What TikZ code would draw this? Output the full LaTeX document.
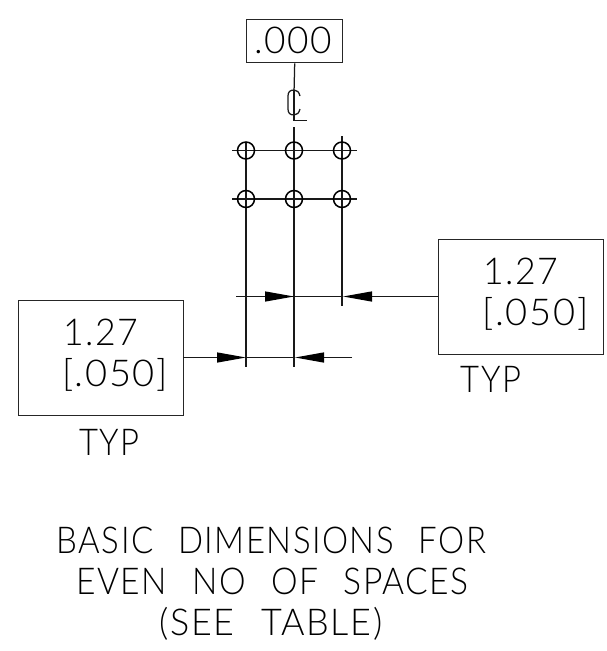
\documentclass[tikz,border=0pt]{standalone}
\usepackage{graphicx}
\usepackage{fontspec}
\setmainfont{Lato}[UprightFont={* Light},LetterSpace=4,WordSpace=2.4,FakeStretch=0.92]
\usetikzlibrary{arrows.meta}
\tikzset{
  x=1pt,y=-1pt,
  ln/.style={line width=1.25pt,black!90},
  dimbox/.style={draw=black!85,line width=1.4pt,inner sep=0pt,anchor=north west,fill=none},
  lbl/.style={inner sep=0pt,font=\fontsize{37}{37}\selectfont,text=black,anchor=center},
  hole/.style={circle,draw=black,line width=1.5pt,minimum size=17pt,inner sep=0pt},
  tip/.style={-{Triangle[length=29pt,width=10pt,black]},shorten >=0pt}
}
\begin{document}
\begin{tikzpicture}
\useasboundingbox (0,0) rectangle (606,651);
\node[dimbox,minimum width=96pt,minimum height=43pt] (boxtop) at (246,19) {};
\node[dimbox,minimum width=165pt,minimum height=115pt] (boxleft) at (18,300) {};
\node[dimbox,minimum width=165pt,minimum height=115pt] (boxright) at (438,239) {};
\coordinate (cltop) at (294,93);
\coordinate (midtop) at (294,127);
\coordinate (midbot) at (294,367);
\coordinate (lefttop) at (246,142);
\coordinate (leftbot) at (246,367);
\coordinate (righttop) at (342,136);
\coordinate (rightbot) at (342,306);
\coordinate (r1l) at (232,150.5);
\coordinate (r1r) at (357,150.5);
\coordinate (r2l) at (232,199);
\coordinate (r2r) at (357,199);
\coordinate (ustart) at (236,296.5);
\coordinate (utipl) at (294,296.5);
\coordinate (utipr) at (343,296.5);
\coordinate (lbox) at (183,357.5);
\coordinate (ltipl) at (246,357.5);
\coordinate (ltipr) at (295,357.5);
\coordinate (lend) at (352,357.5);
\coordinate (rbox) at (438,296.5);
\draw[ln] (boxtop.south) -- (cltop);
\draw[ln] (midtop) -- (midbot);
\draw[ln] (lefttop) -- (leftbot);
\draw[ln] (righttop) -- (rightbot);
\draw[ln] (r1l) -- (r1r);
\draw[ln] (r2l) -- (r2r);
\foreach \n/\x/\y in {a/246/150.5,b/294/150.5,c/342/150.5,d/246/199,e/294/199,f/342/199}
  \node[hole] (\n) at (\x,\y) {};
\draw[ln] (ustart) -- (utipr);
\draw[ln,tip] (ustart) -- (utipl);
\draw[ln,tip] (rbox) -- (utipr);
\draw[ln,tip] (lbox) -- (ltipl);
\draw[ln] (ltipl) -- (ltipr);
\draw[ln,tip] (lend) -- (ltipr);
\draw[ln] (300,96) .. controls (299,92) and (297,90) .. (294,90) .. controls (290,90) and (288,92) .. (288,96) -- (288,109) .. controls (288,113) and (290,115) .. (294,115) .. controls (297,115) and (299,113) .. (300,109);
\draw[ln] (294,90) -- (294,120.5) -- (307,120.5);
\node[lbl] (t0) at (293.5,40.5) {\scalebox{1.087}[1]{.000}};
\node[lbl] (t1) at (101,332) {\scalebox{1.048}[1]{1.27}};
\node[lbl] (t2) at (115,375) {\scalebox{1.118}[1]{[.050]}};
\node[lbl] (t3) at (109.5,442.5) {\scalebox{.962}[1]{TYP}};
\node[lbl] (t4) at (521,271.5) {\scalebox{1.048}[1]{1.27}};
\node[lbl] (t5) at (535.5,314) {\scalebox{1.118}[1]{[.050]}};
\node[lbl] (t6) at (491,379.5) {\scalebox{.962}[1]{TYP}};
\node[lbl] (t7) at (271.5,540) {\scalebox{.969}[1]{BASIC DIMENSIONS FOR}};
\node[lbl] (t8) at (272.5,581.5) {\scalebox{.987}[1]{EVEN NO OF SPACES}};
\node[lbl] (t9) at (271,624) {\scalebox{1.055}[1]{(SEE TABLE)}};
\end{tikzpicture}
\end{document}
